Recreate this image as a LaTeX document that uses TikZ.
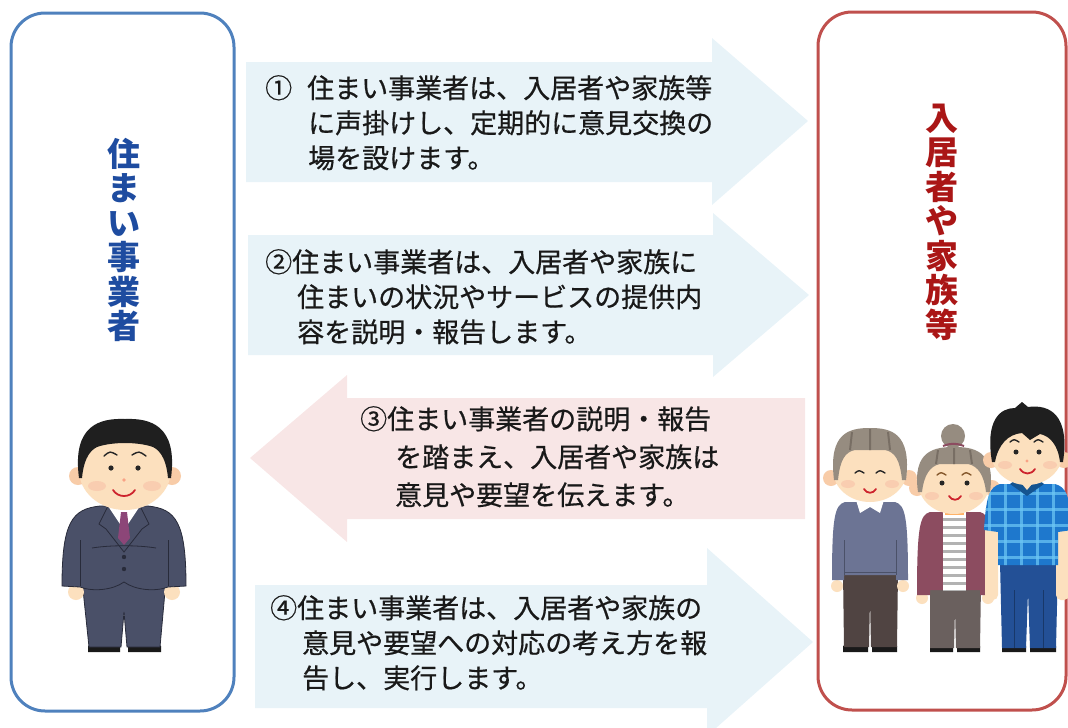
\documentclass[tikz,border=0pt]{standalone}
\usepackage{fontspec}
\newfontfamily\jp{Noto Sans CJK JP}
\newfontfamily\jpmsg[FakeBold=0.6]{Noto Sans CJK JP}
\definecolor{provblue}{RGB}{79,129,189}
\definecolor{resred}{RGB}{192,80,77}
\definecolor{arrowblue}{RGB}{232,243,248}
\definecolor{arrowpink}{RGB}{248,230,230}
\definecolor{titleblue}{RGB}{30,76,160}
\definecolor{titlered}{RGB}{170,22,22}
\definecolor{textdark}{RGB}{25,25,25}
\definecolor{skincol}{RGB}{252,224,190}
\definecolor{earcol}{RGB}{248,204,168}
\definecolor{suitcol}{RGB}{74,80,104}
\definecolor{suitdark}{RGB}{40,43,58}
\definecolor{tiecol}{RGB}{140,70,120}
\definecolor{grayhair}{RGB}{150,140,128}
\definecolor{grayhairdark}{RGB}{120,110,100}
\definecolor{sweatercol}{RGB}{108,116,148}
\definecolor{brownpants}{RGB}{80,68,66}
\definecolor{cardigancol}{RGB}{140,76,96}
\definecolor{shirtblue}{RGB}{30,120,205}
\definecolor{checklight}{RGB}{110,200,245}
\definecolor{jeanscol}{RGB}{35,80,150}
\definecolor{mouthcol}{RGB}{205,35,45}
\definecolor{blushcol}{RGB}{245,170,150}
\begin{document}
\begin{tikzpicture}[x=1pt,y=-1pt,
  panelbox/.style={line width=3pt, rounded corners=34pt, fill=white},
  toright/.style={fill=arrowblue},
  toleft/.style={fill=arrowpink},
  msg/.style={font=\jpmsg\fontsize{27}{35}\selectfont, text=textdark, align=left, inner sep=0pt, anchor=north west},
  vtitle/.style={font=\jp\bfseries\fontsize{33}{34.5}\selectfont, align=center, inner sep=0pt},
  outline/.style={draw=suitdark, line width=0.8pt},
  facefeat/.style={line width=1.4pt, line cap=round, draw=black!85},
  smile/.style={line width=1.8pt, line cap=round, draw=mouthcol},
]
\useasboundingbox (0,0) rectangle (1068,728);

% the two parties
\draw[panelbox, draw=provblue] (11,13) rectangle (234,711);
\draw[panelbox, draw=resred] (818,12) rectangle (1066,710);

\node[vtitle, text=titleblue] (provider) at (124,240) {住\\ま\\い\\事\\業\\者};
\node[vtitle, text=titlered] (residents) at (942,222) {入\\居\\者\\や\\家\\族\\等};

% block arrows
\fill[toright] (246,62) -- (712,62) -- (712,38) -- (808,121) -- (712,205) -- (712,182) -- (246,182) -- cycle;
\fill[toright] (248,235) -- (713,235) -- (713,213) -- (809,295) -- (713,377) -- (713,355) -- (248,355) -- cycle;
\fill[toleft] (805,398) -- (347,398) -- (347,375) -- (250,458) -- (347,542) -- (347,519) -- (805,519) -- cycle;
\fill[toright] (255,585) -- (707,585) -- (707,548) -- (813,642) -- (707,736) -- (707,708) -- (255,708) -- cycle;

% messages
\node[msg] (m1) at (265,75) {①\hspace*{15pt}住まい事業者は、入居者や家族等\\\hspace*{43pt}に声掛けし、定期的に意見交換の\\\hspace*{43pt}場を設けます。};
\node[msg] (m2) at (265,249) {②住まい事業者は、入居者や家族に\\\hspace*{32pt}住まいの状況やサービスの提供内\\\hspace*{32pt}容を説明・報告します。};
\node[msg, font=\jpmsg\fontsize{27}{38}\selectfont] (m3) at (360,406) {③住まい事業者の説明・報告\\\hspace*{35pt}を踏まえ、入居者や家族は\\\hspace*{35pt}意見や要望を伝えます。};
\node[msg] (m4) at (270,595) {④住まい事業者は、入居者や家族の\\\hspace*{32pt}意見や要望への対応の考え方を報\\\hspace*{32pt}告し、実行します。};

% ---- provider figure: man in a suit ----
\fill[black!90] (88,652) -- (88,646) .. controls (96,642) and (114,642) .. (120,646) -- (120,652) -- cycle;
\fill[black!90] (128,652) -- (128,646) .. controls (134,642) and (154,642) .. (161,646) -- (161,652) -- cycle;
\fill[suitcol, outline] (82,580) -- (166,580) -- (160,647) -- (127,647) -- (124,612) -- (121,647) -- (89,647) -- cycle;
\fill[skincol] (76,592) circle (8);
\fill[skincol] (172,592) circle (8);
\fill[suitcol, outline] (100,506) -- (148,506) .. controls (176,509) and (186,522) .. (186,586) -- (168,587) .. controls (155,592) and (135,590) .. (124,582) .. controls (113,590) and (93,592) .. (80,587) -- (62,586) .. controls (62,522) and (72,509) .. (100,506) -- cycle;
\fill[skincol] (113,498) rectangle (135,508);
\fill[white] (108,506) -- (140,506) -- (124,530) -- cycle;
\fill[tiecol] (121,512) -- (127,512) -- (130,538) -- (124,545) -- (118,538) -- cycle;
\draw[outline] (108,506) -- (99,524) -- (106,529) -- (124,552) -- (142,529) -- (149,524) -- (140,506);
\draw[outline] (80,540) -- (80,586) (168,540) -- (168,586);
\draw[outline] (92,548) .. controls (110,545) and (138,545) .. (156,548);
\fill[suitdark] (124,557) circle (2.2) (124,569) circle (2.2);
\fill[earcol] (78,476) circle (9) (172,476) circle (9);
\fill[skincol] (125,470) ellipse (46 and 40);
\fill[black!88] (79,478) .. controls (72,425) and (100,418) .. (125,419) .. controls (150,418) and (178,425) .. (171,478) -- (168,478) .. controls (166,456) and (158,448) .. (150,446) .. controls (135,442) and (115,442) .. (100,446) .. controls (92,448) and (84,456) .. (82,478) -- cycle;
\fill[blushcol, opacity=0.35] (97,486) ellipse (9 and 5) (152,486) ellipse (9 and 5);
\draw[facefeat] (104,456) .. controls (110,451) .. (117,455) (132,455) .. controls (139,451) .. (146,456);
\fill[black!85] (111,468) circle (2.6) (138,468) circle (2.6);
\fill[earcol!80!red] (124,480) circle (1.8);
\draw[smile] (113,490) .. controls (118,498) and (130,498) .. (135,490);

% ---- residents: grandfather ----
\fill[black!90] (843,652) -- (843,646) .. controls (850,642) and (862,642) .. (868,646) -- (868,652) -- cycle;
\fill[black!90] (872,652) -- (872,646) .. controls (878,642) and (890,642) .. (897,646) -- (897,652) -- cycle;
\fill[brownpants] (843,572) -- (898,572) -- (897,647) -- (871,647) -- (870,600) -- (869,647) -- (844,647) -- cycle;
\fill[skincol] (837,586) circle (6) (903,586) circle (6);
\fill[sweatercol] (845,502) -- (895,502) .. controls (905,505) and (908,515) .. (908,580) -- (896,580) -- (896,575) -- (844,575) -- (844,580) -- (832,580) .. controls (832,515) and (835,505) .. (845,502) -- cycle;
\draw[sweatercol!70!black, line width=0.7pt] (844,540) -- (844,575) (896,540) -- (896,575) (844,572) -- (896,572);
\fill[white] (856,500) -- (884,500) -- (880,513) -- (870,507) -- (860,513) -- cycle;
\fill[earcol] (831,478) circle (8) (909,478) circle (8);
\fill[skincol] (870,470) ellipse (37 and 32);
\fill[grayhair] (834,480) .. controls (828,432) and (850,428) .. (870,428) .. controls (890,428) and (912,432) .. (906,480) -- (902,480) .. controls (900,460) and (895,452) .. (885,450) -- (855,450) .. controls (845,452) and (840,460) .. (838,480) -- cycle;
\draw[grayhairdark, line width=2pt] (852,432) -- (850,450) (870,429) -- (870,450) (888,432) -- (890,450);
\draw[facefeat] (855,473) .. controls (859,470) .. (864,473) (876,473) .. controls (880,470) .. (885,473);
\fill[blushcol, opacity=0.35] (848,484) ellipse (7 and 4) (892,484) ellipse (7 and 4);
\draw[smile] (864,489) .. controls (867,494) and (873,494) .. (876,489);

% ---- residents: grandmother ----
\fill[black!90] (930,652) -- (930,646) .. controls (936,642) and (948,642) .. (953,646) -- (953,652) -- cycle;
\fill[black!90] (957,652) -- (957,646) .. controls (962,642) and (974,642) .. (980,646) -- (980,652) -- cycle;
\fill[brownpants!85!white] (930,585) -- (981,585) -- (980,648) -- (956,648) -- (955,610) -- (954,648) -- (930,648) -- cycle;
\fill[skincol] (922,598) circle (6) (988,598) circle (6);
\fill[cardigancol] (930,512) -- (980,512) .. controls (990,515) and (993,525) .. (993,595) -- (980,595) -- (980,590) -- (930,590) -- (930,595) -- (917,595) .. controls (917,525) and (920,515) .. (930,512) -- cycle;
\begin{scope}
  \clip (943,512) rectangle (966,590);
  \fill[white] (943,512) rectangle (966,590);
  \foreach \s in {518,526,...,590} \fill[black!30] (943,\s) rectangle (966,\s+3);
\end{scope}
\fill[orange!60] (945,509) rectangle (964,515);
\fill[earcol] (917,488) circle (8) (992,488) circle (8);
\fill[skincol] (954,482) ellipse (36 and 32);
\fill[grayhair] (953,436) circle (12);
\fill[grayhair] (918,492) .. controls (912,450) and (935,447) .. (954,447) .. controls (973,447) and (996,450) .. (990,492) -- (986,492) .. controls (984,475) and (978,466) .. (968,464) -- (940,464) .. controls (930,466) and (924,475) .. (922,492) -- cycle;
\draw[cardigancol, line width=2pt] (943,446) .. controls (950,443) and (957,443) .. (964,446);
\draw[grayhairdark, line width=2pt] (938,450) -- (936,464) (954,448) -- (954,464) (970,450) -- (972,464);
\draw[facefeat, draw=brown!70!black] (937,475) .. controls (941,472) .. (946,475) (962,475) .. controls (966,472) .. (971,475);
\fill[black!85] (942,483) circle (2.5) (967,483) circle (2.5);
\fill[blushcol, opacity=0.35] (932,496) ellipse (7 and 4) (976,496) ellipse (7 and 4);
\draw[smile] (949,496) .. controls (952,501) and (958,501) .. (961,496);

% ---- residents: young man ----
\fill[black!90] (1002,652) -- (1002,646) .. controls (1008,642) and (1020,642) .. (1026,646) -- (1026,652) -- cycle;
\fill[black!90] (1030,652) -- (1030,646) .. controls (1036,642) and (1050,642) .. (1056,646) -- (1056,652) -- cycle;
\fill[jeanscol] (1000,562) -- (1058,562) -- (1056,648) -- (1030,648) -- (1028,592) -- (1026,648) -- (1002,648) -- cycle;
\draw[jeanscol!70!black, line width=0.8pt] (1014,590) -- (1014,648) (1043,590) -- (1043,648);
\fill[skincol, rounded corners=5pt] (985,522) rectangle (998,600);
\fill[skincol, rounded corners=5pt] (1056,522) rectangle (1069,600);
\begin{scope}
  \clip (1000,484) -- (1055,484) .. controls (1066,487) and (1070,495) .. (1072,530) -- (1058,532) -- (1058,565) -- (998,565) -- (998,532) -- (984,530) .. controls (986,495) and (990,487) .. (1000,484) -- cycle;
  \fill[shirtblue] (980,480) rectangle (1075,570);
  \foreach \s in {492,508,...,565} \fill[checklight, opacity=0.7] (980,\s) rectangle (1075,\s+3);
  \foreach \s in {988,1004,...,1070} \fill[checklight, opacity=0.7] (\s,480) rectangle (\s+3,570);
\end{scope}
\fill[shirtblue!70!black] (1010,484) -- (1027,496) -- (1044,484) -- (1040,481) -- (1014,481) -- cycle;
\fill[skincol] (1017,478) -- (1037,478) -- (1027,490) -- cycle;
\fill[earcol] (991,460) circle (8) (1064,460) circle (8);
\fill[skincol] (1027,452) ellipse (36 and 33);
\fill[black!88] (992,462) .. controls (985,420) and (1000,408) .. (1015,408) -- (1022,402) -- (1028,407) .. controls (1050,404) and (1070,415) .. (1063,462) -- (1060,462) .. controls (1058,445) and (1050,436) .. (1040,434) -- (1030,440) -- (1022,433) .. controls (1008,434) and (998,445) .. (995,462) -- cycle;
\draw[facefeat] (1010,442) .. controls (1014,439) .. (1019,442) (1034,442) .. controls (1038,439) .. (1043,442);
\fill[black!85] (1016,452) circle (2.5) (1039,452) circle (2.5);
\fill[earcol!80!red] (1027,461) circle (1.6);
\fill[blushcol, opacity=0.35] (1005,465) ellipse (7 and 4) (1050,465) ellipse (7 and 4);
\draw[smile] (1020,469) .. controls (1024,475) and (1031,475) .. (1035,469);
\end{tikzpicture}
\end{document}
